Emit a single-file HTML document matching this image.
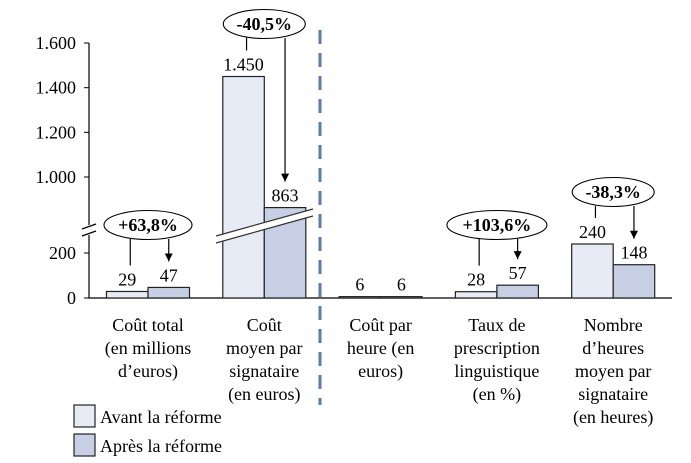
<!DOCTYPE html>
<html><head><meta charset="utf-8"><style>
html,body{margin:0;padding:0;background:#fff;}
svg{display:block;}
svg text{font-family:"Liberation Serif","DejaVu Serif",serif;}
</style></head><body>
<svg id="chart" width="691" height="463" viewBox="0 0 691 463" font-family="Liberation Serif, serif">
<defs><marker id="ah" markerWidth="9" markerHeight="9" refX="8" refY="4" orient="auto" markerUnits="userSpaceOnUse"><path d="M0,0 L8,4 L0,8 z" fill="#000"/></marker></defs>
</svg>
<script>
const categories=[["Coût total","(en millions","d’euros)"],["Coût","moyen par","signataire","(en euros)"],["Coût par","heure (en","euros)"],["Taux de","prescription","linguistique","(en %)"],["Nombre","d’heures","moyen par","signataire","(en heures)"]];
const avant=[29,1450,6,28,240];
const apres=[47,863,6,57,148];
const avantLabels=["29","1.450","6","28","240"];
const apresLabels=["47","863","6","57","148"];
const changes=["+63,8%","-40,5%","","+103,6%","-38,3%"];
const tickValues=[0,200,1000,1200,1400,1600];
const tickLabels=["0","200","1.000","1.200","1.400","1.600"];

const svg=document.getElementById('chart');
const NS="http://www.w3.org/2000/svg";
function mk(t,a,p){const e=document.createElementNS(NS,t);for(const k in a)e.setAttribute(k,a[k]);(p||svg).appendChild(e);return e;}
function y(v){return v<=300?298-v*0.225:177-(v-1000)*0.2233;}
const X0=89,BASE=298,GS=116.3,G0=148,BW=41.5,FS=18;
function gx(i){return G0+i*GS;}

let ax=mk('line',{x1:X0,y1:BASE,x2:672,y2:BASE,stroke:'#000','stroke-width':1.2});

let ay1=mk('line',{x1:X0,y1:43,x2:X0,y2:225,stroke:'#000','stroke-width':1.2});

let ay2=mk('line',{x1:X0,y1:235,x2:X0,y2:BASE,stroke:'#000','stroke-width':1.2});

let brk=mk('path',{d:'M82,229 L96,224 M82,236 L96,231',stroke:'#000','stroke-width':1.2,fill:'none'});

tickValues.forEach((v,i)=>{
  const ty=y(v);
  const t=mk('line',{x1:X0-5,y1:ty,x2:X0,y2:ty,stroke:'#000'});
  
  const l=mk('text',{x:X0-13,y:ty+6,'text-anchor':'end','font-size':FS});
  l.textContent=tickLabels[i];
  
});

for(let i=0;i<categories.length;i++){
  const cx=gx(i);
  [[avant[i],avantLabels[i],'#e6ebf5',cx-BW,'avant'],[apres[i],apresLabels[i],'#c6cfe3',cx,'apres']].forEach(([v,lab,col,x,nm])=>{
    const top=y(v);
    const r=mk('rect',{x:x,y:top,width:BW,height:Math.max(BASE-top,0.5),fill:col,stroke:'#222','stroke-width':1.2});
    
    
    const t=mk('text',{x:x+BW/2,y:top-6,'text-anchor':'middle','font-size':FS});
    t.textContent=lab;
    
    
  });
  categories[i].forEach((line,j)=>{
    const t=mk('text',{x:cx,y:331+j*23,'text-anchor':'middle','font-size':FS});
    t.textContent=line;
    
    
  });
  if(changes[i]){
    const topA=y(avant[i]),topB=y(apres[i]);
    const ecy=i===1?24:(i===4?192:225);
    const rx=changes[i].length>6?50:(i===0?44:41);
    const lx=cx-BW/2+3, rxl=cx+BW/2+0;
    const l1=mk('line',{x1:lx,y1:ecy+14,x2:lx,y2:topA-26,stroke:'#000','stroke-width':1.2});
    
    const l2=mk('line',{x1:rxl,y1:ecy+14,x2:rxl,y2:topB-26,stroke:'#000','stroke-width':1.2,'marker-end':'url(#ah)'});
    
    const e=mk('ellipse',{cx:cx,cy:ecy,rx:rx,ry:14.5,fill:'#fff',stroke:'#000','stroke-width':1.1});
    
    const t=mk('text',{x:cx,y:ecy+6,'text-anchor':'middle','font-size':FS,'font-weight':'bold'});
    t.textContent=changes[i];
    
  }
}
let bb=mk('polygon',{points:'214,236 318,207 318,214 214,243',fill:'#fff'});

let bl=mk('path',{d:'M216,236 L313,209 M216,243 L313,216',stroke:'#333','stroke-width':1.2});

let dv=mk('line',{x1:320,y1:30,x2:320,y2:405,stroke:'#5a7bab','stroke-width':3,'stroke-dasharray':'14,9'});

[['Avant la réforme','#e6ebf5',405],['Après la réforme','#c6cfe3',434]].forEach(([lab,col,ly],k)=>{
  const r=mk('rect',{x:74,y:ly,width:21,height:22,fill:col,stroke:'#222','stroke-width':1.2});
  
  const t=mk('text',{x:100,y:ly+18,'font-size':FS});
  t.textContent=lab;
  
});
</script>
</body></html>
